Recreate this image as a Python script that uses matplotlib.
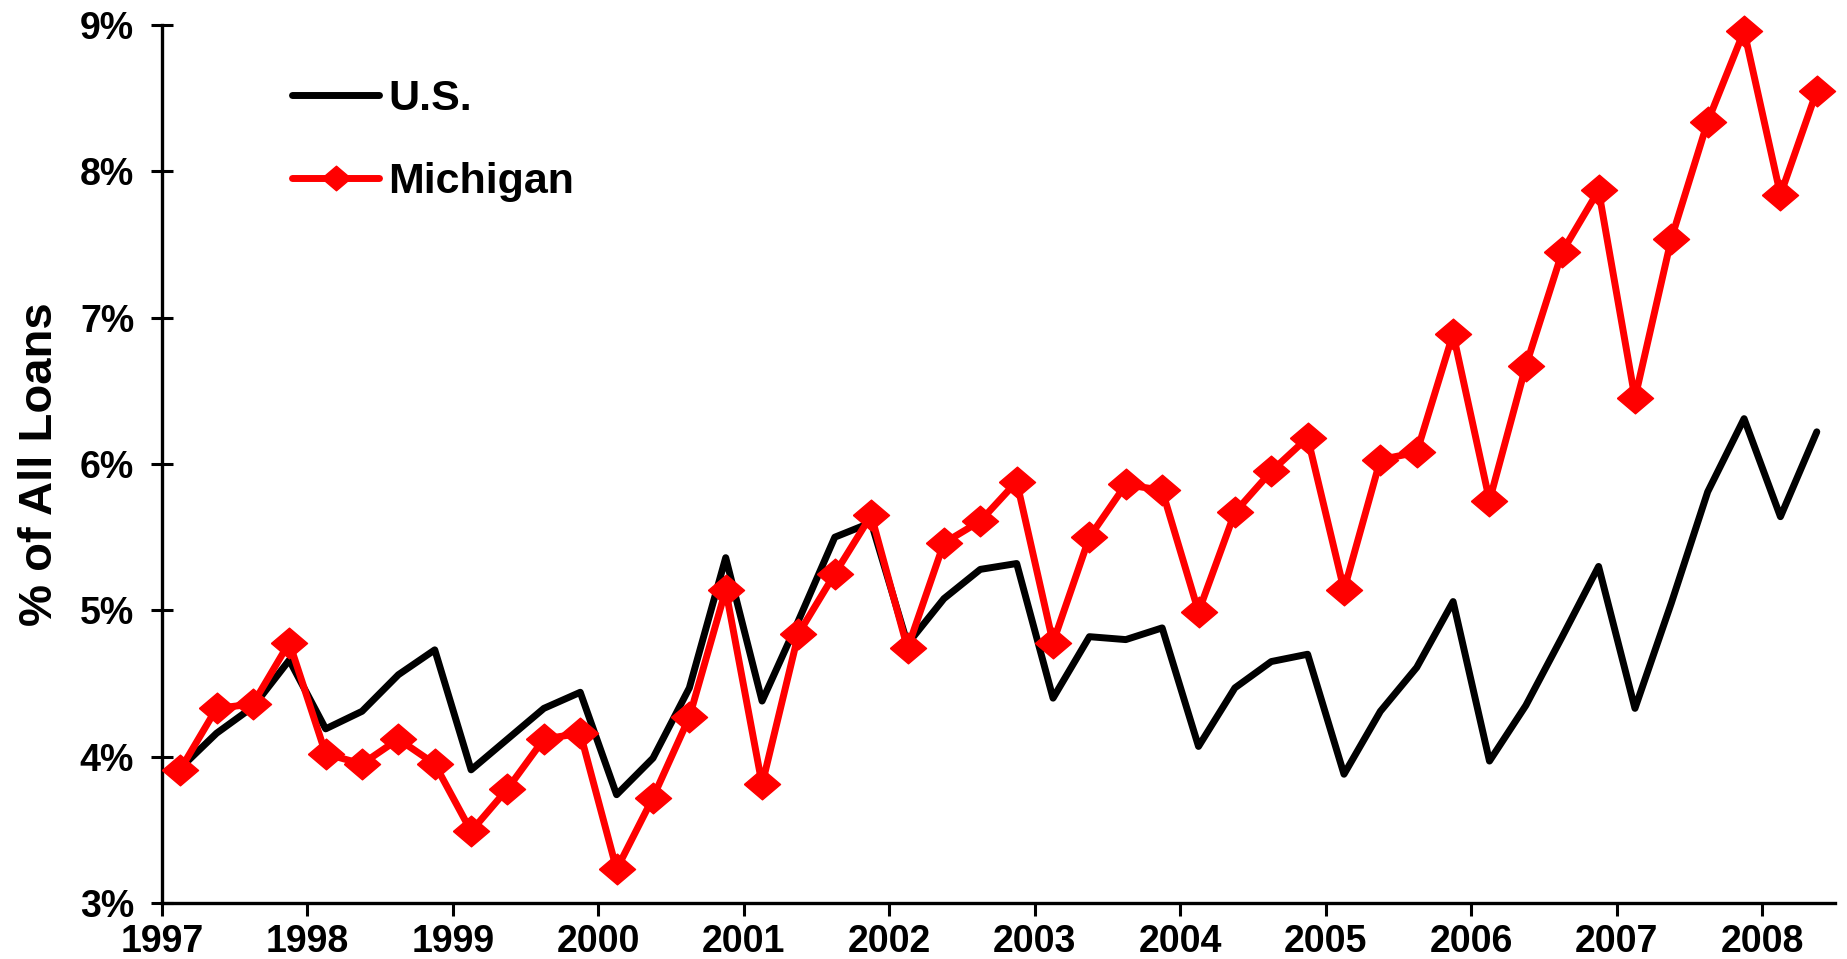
"""Delinquent loans, U.S. vs Michigan, quarterly 1997-2008."""

import matplotlib
matplotlib.use("Agg")
import matplotlib.pyplot as plt
import numpy as np

years = list(range(1997, 2009))

# percent of all loans, one value per quarter (1997 Q1 .. 2008 Q2)
us = [3.92, 4.16, 4.34, 4.66, 4.19, 4.31, 4.56, 4.73, 3.91, 4.12,
      4.33, 4.44, 3.74, 3.99, 4.47, 5.36, 4.38, 4.93, 5.50, 5.60,
      4.77, 5.08, 5.28, 5.32, 4.40, 4.82, 4.80, 4.88, 4.07, 4.47,
      4.65, 4.70, 3.88, 4.31, 4.61, 5.06, 3.97, 4.35, 4.82, 5.30,
      4.33, 5.05, 5.81, 6.31, 5.64, 6.22]
michigan = [3.91, 4.33, 4.36, 4.78, 4.02, 3.95, 4.12, 3.95, 3.49, 3.78,
            4.12, 4.16, 3.23, 3.72, 4.27, 5.14, 3.81, 4.84, 5.25, 5.65,
            4.74, 5.46, 5.61, 5.88, 4.78, 5.50, 5.86, 5.82, 4.99, 5.67,
            5.95, 6.18, 5.14, 6.03, 6.08, 6.89, 5.75, 6.67, 7.45, 7.87,
            6.45, 7.54, 8.34, 8.96, 7.84, 8.55]
y_ticks = [3, 4, 5, 6, 7, 8, 9]

plt.rcParams["font.family"] = ["Liberation Sans", "DejaVu Sans"]
plt.rcParams["font.weight"] = "bold"


def main():
    fig = plt.figure(figsize=(18.47, 9.59), dpi=100)
    ax = fig.add_axes([0.0877, 0.0584, 0.9058, 0.9155])

    x = np.arange(len(us))
    diamond = [(-1, 0), (0, 0.85), (1, 0), (0, -0.85), (-1, 0)]

    ax.plot(x, us, color="black", lw=5, solid_joinstyle="round",
            solid_capstyle="round", label="U.S.", clip_on=False, zorder=3)
    ax.plot(x, michigan, color="#ff0000", lw=5, marker=diamond, ms=26,
            mec="#ff0000", mfc="#ff0000", mew=1, solid_joinstyle="round",
            solid_capstyle="round", label="Michigan", clip_on=False, zorder=4)

    ax.set_xlim(-0.5, len(us) - 0.5)
    ax.set_ylim(3, 9)
    ax.set_xticks(np.arange(len(years)) * 4 - 0.5)
    ax.set_xticklabels([str(y) for y in years])
    ax.set_yticks(y_ticks)
    ax.set_yticklabels([f"{v}%" for v in y_ticks])

    for side in ("top", "right"):
        ax.spines[side].set_visible(False)
    for side in ("left", "bottom"):
        ax.spines[side].set_linewidth(2.4)

    ax.tick_params(axis="y", direction="inout", length=16, width=2.2,
                   labelsize=27, pad=12)
    ax.tick_params(axis="x", direction="out", length=9, width=2.2,
                   labelsize=27, pad=6)

    ax.set_ylabel("% of All Loans", fontsize=34, fontweight="bold", labelpad=13)

    ax.legend(loc="upper left", bbox_to_anchor=(0.078, 0.938), frameon=False,
              fontsize=31, handlelength=2.0, handletextpad=0.22,
              labelspacing=0.98, borderpad=0, borderaxespad=0, markerscale=0.8)

    fig.savefig("out.png", dpi=100)


if __name__ == "__main__":
    main()
